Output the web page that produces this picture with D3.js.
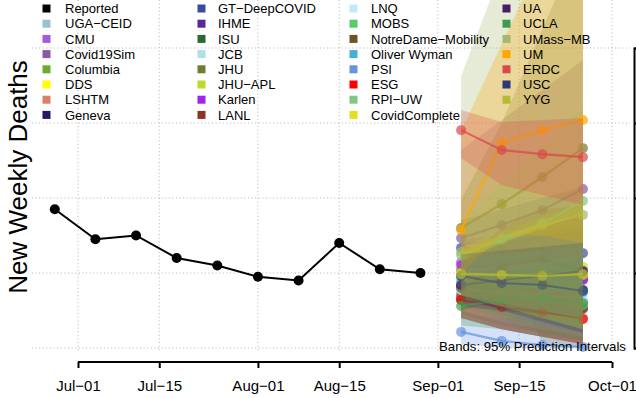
<!DOCTYPE html>
<html><head><meta charset="utf-8">
<script src="https://cdn.jsdelivr.net/npm/d3@7"></script>
<style>
html,body{margin:0;padding:0;background:#fff;overflow:hidden}
text{font-family:"Liberation Sans",Arial,Helvetica,sans-serif}
</style>
</head><body>
<svg id="c" width="636" height="398"></svg>
<script>
// ---------------- data ----------------
const reportedDates = ["2020-06-27","2020-07-04","2020-07-11","2020-07-18","2020-07-25","2020-08-01","2020-08-08","2020-08-15","2020-08-22","2020-08-29"];
const reportedDeaths = [37,29,30,24,22,19,18,28,21,20];
const forecastDates = ["2020-09-05","2020-09-12","2020-09-19","2020-09-26"];
const xTickDates = ["2020-07-01","2020-07-15","2020-08-01","2020-08-15","2020-09-01","2020-09-15","2020-10-01"];
const yTickValues = [0,20,40,60,80];

const modelNames = ["UGA\u2212CEID","CMU","Covid19Sim","Columbia","DDS","LSHTM","Geneva",
  "GT\u2212DeepCOVID","IHME","ISU","JCB","JHU","JHU\u2212APL","Karlen","LANL",
  "LNQ","MOBS","NotreDame\u2212Mobility","Oliver Wyman","PSI","ESG","RPI\u2212UW","CovidComplete",
  "UA","UCLA","UMass\u2212MB","UM","ERDC","USC","YYG"];
const modelColors = ["#9CC0CE","#A45BD6","#8A58A6","#6AAE2E","#FFFF00","#DB8068","#2B1665",
  "#3C4A9E","#57279F","#2C6632","#B2DDEA","#727B34","#BCDC2B","#A021F0","#8A3424",
  "#BDEBFA","#56CC66","#6C5520","#47AED8","#6594E1","#FF0000","#7FC97F","#E0E01E",
  "#4B1C66","#3F9B4F","#A3B86B","#FFA500","#DA4A4A","#2D3A77","#B4BB35"];
const modelPoints = [
  [14.9,13.9,12.8,12.0],[22.9,21.3,20.3,19.2],[29.3,32.8,36.8,42.4],[16.8,14.9,13.3,12.0],
  [19.5,19.2,18.9,18.7],[13.3,11.5,9.6,8.0],[16.3,16.0,15.7,15.5],
  [26.7,26.1,25.6,25.3],[20.8,20.3,19.5,18.4],[12.8,12.0,11.2,10.4],[14.4,13.9,13.3,12.8],
  [32.0,38.4,45.6,53.3],[20.8,21.1,21.3,21.6],[22.1,20.8,19.5,18.1],[13.9,12.8,11.7,10.7],
  [15.5,14.7,13.9,13.3],[18.7,16.0,13.6,11.5],[16.0,21.9,23.7,20.5],[17.6,16.8,16.0,14.9],
  [4.3,1.9,0.8,0.3],[12.8,10.9,9.6,7.7],[24.8,28.8,33.3,39.2],[20.0,19.5,19.7,19.5],
  [16.8,18.1,19.2,20.5],[11.2,12.8,13.3,12.0],[25.6,29.3,32.8,35.5],[31.5,54.7,58.1,60.8],
  [58.1,52.8,51.7,50.9],[19.2,17.3,16.8,15.2],[19.7,19.5,19.2,19.7]];
const modelLower = [
  [10,7,4,2],[17,14,11,8],[18,16,14,12],[11,8,5,3],
  [15,12,10,8],[9,6,4,2],[12,10,8,6],
  [20,17,14,12],[16,13,10,8],[8,5,3,1],[10,7,5,3],
  [26,26,1,0],[15,12,9,6],[17,13,10,7],[8,5,3,1],
  [10,7,5,3],[13,8,4,1],[10,13,12,8],[12,9,6,4],
  [1,0,0,0],[8,5,3,1],[16,14,12,10],[14,11,8,5],
  [11,10,9,8],[6,5,3,2],[14,12,10,8],[20,30,30,28],
  [50.7,43.5,40.8,38.1],[14,10,7,4],[14,11,8,5]];
const modelUpper = [
  [20,21,22,24],[29,30,31,33],[52.8,60.8,68.8,76.8],[23,23,24,25],
  [25,27,29,31],[18,18,19,20],[21,23,25,27],
  [34,37,40,43],[26,28,30,32],[18,19,20,21],[19,21,22,24],
  [39.5,60,85,110],[27,31,35,39],[28,29,30,31],[20,21,22,23],
  [21,22,23,25],[25,25,26,27],[23,32,37,38],[24,25,26,28],
  [9,8,8,8],[18,17,16,15],[34,44,54,64],[27,30,33,36],
  [23,28,32,36],[17,20,22,24],[72.5,100.8,127.5,154.1],[57.9,81.1,104.3,127.5],
  [63.5,60.3,60.8,61.3],[25,26,27,28],[26,30,34,38]];

// ---------------- drawing ----------------
const parse = d3.utcParse("%Y-%m-%d");
const svg = d3.select("#c");
const plotL = 32, plotR = 630, plotB = 352;

const x = d3.scaleUtc().domain([parse("2020-07-01"), parse("2020-10-01")]).range([78, 612]);
const y = d3.scaleLinear().domain([0, 80]).range([348, 48]);

svg.append("defs").append("clipPath").attr("id","clip")
  .append("rect").attr("x",plotL).attr("y",-400).attr("width",plotR-plotL).attr("height",plotB+400);

// grid
const grid = svg.append("g").attr("stroke","#b4b4b4").attr("stroke-width",1).attr("stroke-dasharray","1,2.6");
grid.selectAll("line.h").data(yTickValues).join("line")
  .attr("x1",plotL).attr("x2",plotR).attr("y1",d=>y(d)).attr("y2",d=>y(d));
grid.selectAll("line.v").data(xTickDates).join("line")
  .attr("y1",0).attr("y2",plotB).attr("x1",d=>x(parse(d))).attr("x2",d=>x(parse(d)));

const fDates = forecastDates.map(parse);
const models = modelNames.map((n,i)=>({name:n,color:modelColors[i],
  pts:fDates.map((d,j)=>({date:d,v:modelPoints[i][j],lo:modelLower[i][j],hi:modelUpper[i][j]}))}));

const gPlot = svg.append("g").attr("clip-path","url(#clip)");
const area = d3.area().x(d=>x(d.date)).y0(d=>y(d.lo)).y1(d=>y(d.hi));
const line = d3.line().x(d=>x(d.date)).y(d=>y(d.v));
models.forEach(m=>{
  const g = gPlot.append("g");
  g.append("path").attr("d",area(m.pts)).attr("fill",m.color).attr("fill-opacity",0.28).attr("stroke","none");
  g.append("path").attr("d",line(m.pts)).attr("fill","none").attr("stroke",m.color)
    .attr("stroke-width",2.2).attr("stroke-opacity",0.75);
  g.selectAll("circle").data(m.pts).join("circle")
    .attr("cx",d=>x(d.date)).attr("cy",d=>y(d.v)).attr("r",5)
    .attr("fill",m.color).attr("fill-opacity",0.7);
});

// reported
const rep = reportedDates.map((d,i)=>({date:parse(d),v:reportedDeaths[i]}));
svg.append("path").attr("d",line(rep)).attr("fill","none").attr("stroke","#000").attr("stroke-width",2);
svg.selectAll("circle.rep").data(rep).join("circle").attr("class","rep")
  .attr("cx",d=>x(d.date)).attr("cy",d=>y(d.v)).attr("r",5).attr("fill","#000");

// bottom axis
const xAxis = d3.axisBottom(x).tickValues(xTickDates.map(parse))
  .tickFormat(d3.utcFormat("%b\u2212%d")).tickSize(6).tickPadding(12);
const gx = svg.append("g").attr("transform","translate(0,362)").call(xAxis);
gx.select(".domain").remove();
gx.append("line").attr("x1",x(parse(xTickDates[0]))).attr("x2",x(parse(xTickDates[xTickDates.length-1])))
  .attr("stroke","#000").attr("stroke-width",2);
gx.selectAll(".tick line").attr("stroke","#000").attr("stroke-width",2);
gx.selectAll(".tick text").attr("fill","#000").style("font-size","15px")
  .style("font-family","'Liberation Sans',Arial,sans-serif");

// right axis (labels fall outside the frame)
const yAxis = d3.axisRight(y).tickValues(yTickValues).tickFormat(()=> "").tickSize(6).tickSizeOuter(6);
const gy = svg.append("g").attr("transform","translate(634,0)").call(yAxis);
gy.selectAll("path,line").attr("stroke","#000").attr("stroke-width",2);

// y label
svg.append("text").attr("transform","translate(27,177) rotate(-90)").attr("text-anchor","middle")
  .style("font-size","26px").attr("fill","#000").text("New Weekly Deaths");

// legend
const legNames = ["Reported"].concat(modelNames);
const legColors = ["#000000"].concat(modelColors);
const colSq = [46.5, 201.5, 353.5, 506.5];
const colTx = [65, 218, 371, 523];
const leg = svg.append("g");
legNames.forEach((n,i)=>{
  const c = Math.floor(i/8), r = i%8;
  const cy = 8.5 + r*15.2;
  leg.append("rect").attr("x",colSq[c]-4).attr("y",cy-4).attr("width",8).attr("height",8).attr("fill",legColors[i]);
  leg.append("text").attr("x",colTx[c]).attr("y",cy+4.7).style("font-size","13px").attr("fill","#000").text(n);
});

svg.append("text").attr("x",439).attr("y",350.5).style("font-size","13.2px").attr("fill","#000")
  .text("Bands: 95% Prediction Intervals");
</script>
</body></html>
